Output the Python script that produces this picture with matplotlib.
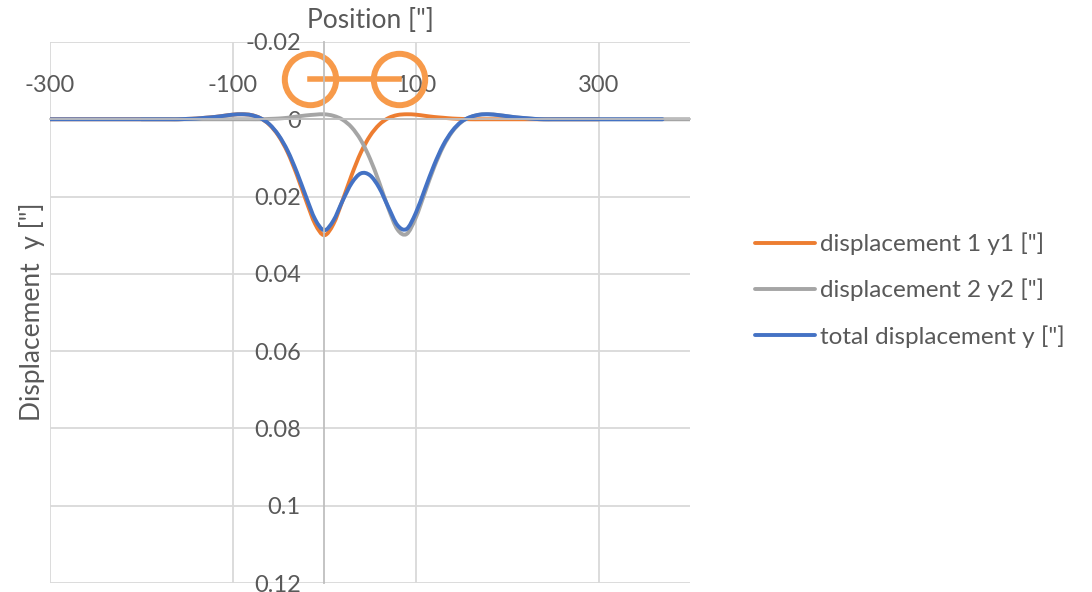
import numpy as np
import matplotlib
matplotlib.use("Agg")
import matplotlib.pyplot as plt
from matplotlib.ticker import FuncFormatter
from matplotlib.path import Path
from matplotlib.patches import PathPatch
from matplotlib.lines import Line2D

plt.rcParams['font.family'] = ['Lato', 'DejaVu Sans']
plt.rcParams['axes.unicode_minus'] = False

# position along the beam ["]
x = [-300, -250, -200, -170, -160, -150, -140, -130, -120, -110, -100, -90, -80,
     -70, -60, -50, -40, -30, -20, -10, 0, 10, 20, 30, 40, 50, 60, 70, 80, 90,
     100, 110, 120, 130, 140, 150, 160, 170, 180, 190, 200, 210, 220, 230, 240,
     250, 260, 300, 350, 370, 400]

# displacement under load 1 (wheel at ~0)
y1 = [0, 0, 0, 0, 0, -0.0001, -0.0002, -0.0004, -0.0006, -0.0009, -0.0012, -0.0013, -0.0011,
      -0.0003, 0.0014, 0.0043, 0.0086, 0.0144, 0.0210, 0.0271, 0.0300, 0.0271, 0.0210, 0.0144,
      0.0086, 0.0043, 0.0014, -0.0003, -0.0011, -0.0013, -0.0012, -0.0009, -0.0006, -0.0004,
      -0.0002, -0.0001, 0, 0, 0, 0, 0, 0, 0, 0, 0,
      0, 0, 0, 0, 0, 0]

# displacement under load 2 (wheel at ~87)
y2 = [0, 0, 0, 0, 0, 0, 0, 0, 0, 0, 0, 0, 0,
      0, -0.0001, -0.0002, -0.0004, -0.0007, -0.0010, -0.0012, -0.0013, -0.0009, 0.0001, 0.0021,
      0.0054, 0.0102, 0.0163, 0.0230, 0.0285, 0.0297, 0.0255, 0.0190, 0.0125, 0.0071,
      0.0032, 0.0007, -0.0006, -0.0012, -0.0013, -0.0011, -0.0008, -0.0005, -0.0003, -0.0001, 0,
      0, 0, 0, 0, 0, 0]

# wheel positions (drawn as big circles above the beam)
wheel_x = [-16, 82]
wheel_y = [-0.0105, -0.0105]

x = np.array(x)
y1 = np.array(y1)
y2 = np.array(y2)
total = y1 + y2

text_col = '#595959'


def smooth_path(xs, ys):
    # bezier path through the points, like excel's "smoothed line"
    pts = np.column_stack([xs, ys])
    n = len(pts)
    verts = [pts[0]]
    codes = [Path.MOVETO]
    for i in range(n - 1):
        p0 = pts[max(i - 1, 0)]
        p1 = pts[i]
        p2 = pts[i + 1]
        p3 = pts[min(i + 2, n - 1)]
        verts += [p1 + (p2 - p0) / 6, p2 - (p3 - p1) / 6, p2]
        codes += [Path.CURVE4] * 3
    return Path(verts, codes)


fig = plt.figure(figsize=(10.92, 5.92), dpi=100)
ax = fig.add_axes([50 / 1092, 9 / 592, 640 / 1092, 541 / 592])

series = [
    (x <= 300, y1, '#ED7D31', 'displacement 1 y1 ["]'),
    (x >= -200, y2, '#A5A5A5', 'displacement 2 y2 ["]'),
    (x <= 370, total, '#4472C4', 'total displacement y ["]'),
]
handles = []
for mask, yy, col, lab in series:
    ax.add_patch(PathPatch(smooth_path(x[mask], yy[mask]), fill=False, edgecolor=col,
                           lw=2.8, capstyle='round', joinstyle='round'))
    handles.append(Line2D([], [], color=col, lw=2.8, solid_capstyle='round'))

ax.plot(wheel_x, wheel_y, color='#F79A4A', lw=4, marker='o', ms=37, mfc='none',
        mec='#F79A4A', mew=4.3)

ax.set_xlim(-300, 400)
ax.set_ylim(0.12, -0.02)
ax.set_xticks([-300, -100, 100, 300])
ax.set_yticks(np.arange(-0.02, 0.1201, 0.02))
ax.yaxis.set_major_formatter(FuncFormatter(lambda v, p: '{:g}'.format(round(v, 2)) if abs(v) > 1e-9 else '0'))
ax.grid(True, color='#D9D9D9', lw=1.3)
ax.set_axisbelow(True)

for s in ['right', 'bottom']:
    ax.spines[s].set_visible(False)
ax.spines['top'].set_position(('data', 0))
ax.spines['left'].set_position(('data', 0))
ax.spines['top'].set_color('#BFBFBF')
ax.spines['left'].set_color('#BFBFBF')
ax.spines['top'].set_linewidth(1.3)
ax.spines['left'].set_linewidth(1.3)
ax.xaxis.set_ticks_position('top')
ax.tick_params(length=0, labelsize=17, colors=text_col, pad=17)

fig.text(370 / 1092, 1 - 20 / 592, 'Position ["]', ha='center', va='center', fontsize=19, color=text_col)
fig.text(32 / 1092, 1 - 312 / 592, 'Displacement  y ["]', ha='center', va='center', rotation=90,
         fontsize=19, color=text_col)

fig.legend(handles, [s[3] for s in series], loc='center left', bbox_to_anchor=(755 / 1092, 1 - 290 / 592),
           frameon=False, fontsize=17.5, handlelength=2.47, handletextpad=0.2, labelspacing=0.97,
           borderpad=0, borderaxespad=0, labelcolor=text_col)

fig.savefig('out.png', dpi=100)
